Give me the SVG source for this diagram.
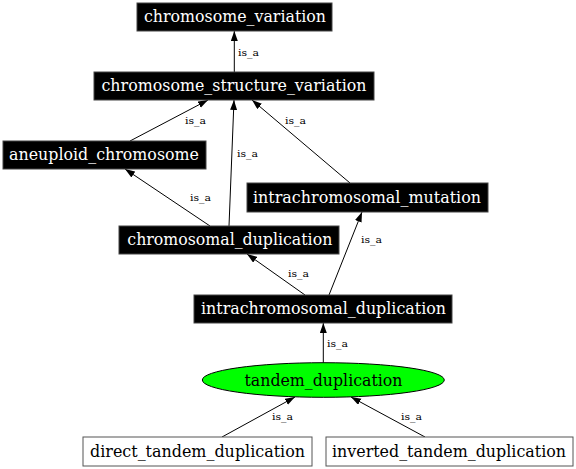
<svg xmlns="http://www.w3.org/2000/svg" width="576" height="469" viewBox="0 0 576 469">
<style>
.bk{fill:#000;stroke:#444;stroke-width:1}
.wt{fill:#fff;stroke:#555;stroke-width:1}
.nt{font-family:'DejaVu Serif',serif;font-size:16px;text-anchor:middle}
.w{fill:#fff}
.k{fill:#000}
.e{stroke:#000;stroke-width:1;fill:none;marker-end:url(#ah)}
.el{font-family:'DejaVu Serif',serif;font-size:10px;fill:#000}
</style>
<defs>
<marker id="ah" markerUnits="userSpaceOnUse" markerWidth="10" markerHeight="8" refX="10" refY="3.5" orient="auto">
<path d="M0,0 L10,3.5 L0,7 z" fill="#000"/>
</marker>
</defs>
<rect width="576" height="469" fill="#fff"/>
<g id="connectors">
<line class="e" x1="234.3" y1="72" x2="234.3" y2="31"/>
<text class="el" x="238" y="56" textLength="21" lengthAdjust="spacingAndGlyphs">is_a</text>
<line class="e" x1="130" y1="141" x2="208" y2="100"/>
<text class="el" x="185" y="124" textLength="21" lengthAdjust="spacingAndGlyphs">is_a</text>
<line class="e" x1="229" y1="226" x2="234" y2="100"/>
<text class="el" x="237" y="157" textLength="21" lengthAdjust="spacingAndGlyphs">is_a</text>
<line class="e" x1="350" y1="183" x2="252" y2="100"/>
<text class="el" x="285" y="124" textLength="21" lengthAdjust="spacingAndGlyphs">is_a</text>
<line class="e" x1="210" y1="226" x2="125" y2="169"/>
<text class="el" x="190" y="201" textLength="21" lengthAdjust="spacingAndGlyphs">is_a</text>
<line class="e" x1="305" y1="295" x2="247" y2="254"/>
<text class="el" x="288" y="277" textLength="21" lengthAdjust="spacingAndGlyphs">is_a</text>
<line class="e" x1="329" y1="295" x2="362" y2="212"/>
<text class="el" x="361" y="243" textLength="21" lengthAdjust="spacingAndGlyphs">is_a</text>
<line class="e" x1="323.3" y1="363" x2="323.3" y2="323"/>
<text class="el" x="327" y="347" textLength="21" lengthAdjust="spacingAndGlyphs">is_a</text>
<line class="e" x1="222" y1="437" x2="295" y2="397"/>
<text class="el" x="272" y="420" textLength="21" lengthAdjust="spacingAndGlyphs">is_a</text>
<line class="e" x1="425" y1="437" x2="351" y2="397"/>
<text class="el" x="401" y="420" textLength="21" lengthAdjust="spacingAndGlyphs">is_a</text>
</g>
<g id="chromosome_variation">
<rect class="bk" x="137" y="3" width="195" height="28"/>
<text class="nt w" x="235" y="22" textLength="182" lengthAdjust="spacingAndGlyphs">chromosome_variation</text>
</g>
<g id="chromosome_structure_variation">
<rect class="bk" x="94" y="72" width="280" height="28"/>
<text class="nt w" x="234" y="91" textLength="265" lengthAdjust="spacingAndGlyphs">chromosome_structure_variation</text>
</g>
<g id="aneuploid_chromosome">
<rect class="bk" x="3" y="141" width="203" height="28"/>
<text class="nt w" x="104" y="160" textLength="190" lengthAdjust="spacingAndGlyphs">aneuploid_chromosome</text>
</g>
<g id="intrachromosomal_mutation">
<rect class="bk" x="247" y="183" width="241" height="29"/>
<text class="nt w" x="367" y="202.5" textLength="228" lengthAdjust="spacingAndGlyphs">intrachromosomal_mutation</text>
</g>
<g id="chromosomal_duplication">
<rect class="bk" x="119" y="226" width="220" height="28"/>
<text class="nt w" x="229.8" y="245" textLength="205" lengthAdjust="spacingAndGlyphs">chromosomal_duplication</text>
</g>
<g id="intrachromosomal_duplication">
<rect class="bk" x="194" y="295" width="258" height="28"/>
<text class="nt w" x="323.5" y="314" textLength="245" lengthAdjust="spacingAndGlyphs">intrachromosomal_duplication</text>
</g>
<g id="tandem_duplication">
<ellipse cx="323.3" cy="380" rx="121" ry="17.3" fill="#00ff00" stroke="#000" stroke-width="1"/>
<text class="nt k" x="323.5" y="385.5" textLength="158" lengthAdjust="spacingAndGlyphs">tandem_duplication</text>
</g>
<g id="direct_tandem_duplication">
<rect class="wt" x="83" y="437" width="229" height="29"/>
<text class="nt k" x="197.5" y="457" textLength="215" lengthAdjust="spacingAndGlyphs">direct_tandem_duplication</text>
</g>
<g id="inverted_tandem_duplication">
<rect class="wt" x="326" y="437" width="247" height="29"/>
<text class="nt k" x="449" y="457" textLength="234" lengthAdjust="spacingAndGlyphs">inverted_tandem_duplication</text>
</g>
</svg>
